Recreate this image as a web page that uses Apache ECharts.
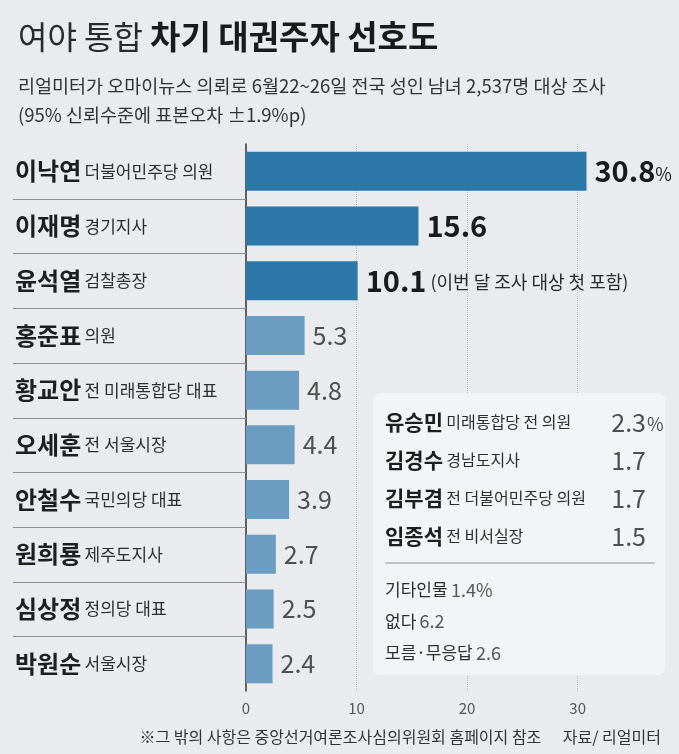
<!DOCTYPE html>
<html>
<head>
<meta charset="utf-8">
<script src="https://cdn.jsdelivr.net/npm/echarts@6/dist/echarts.min.js"></script>
<style>
  html, body { margin: 0; padding: 0; background: #e9ebef; }
  #chart { width: 679px; height: 754px; }
</style>
</head>
<body>
<div id="chart"></div>
<script>
// 주요 후보
const names = ['이낙연', '이재명', '윤석열', '홍준표', '황교안', '오세훈', '안철수', '원희룡', '심상정', '박원순'];
const titles = ['더불어민주당 의원', '경기지사', '검찰총장', '의원', '전 미래통합당 대표', '전 서울시장', '국민의당 대표', '제주도지사', '정의당 대표', '서울시장'];
const values = [30.8, 15.6, 10.1, 5.3, 4.8, 4.4, 3.9, 2.7, 2.5, 2.4];
const noteText = '(이번 달 조사 대상 첫 포함)';

// 박스 안 후보
const insetNames = ['유승민', '김경수', '김부겸', '임종석'];
const insetTitles = ['미래통합당 전 의원', '경남도지사', '전 더불어민주당 의원', '전 비서실장'];
const insetValues = [2.3, 1.7, 1.7, 1.5];
const otherLabels = ['기타인물', '없다', '모름·무응답'];
const otherValues = [1.4, 6.2, 2.6];

const xMax = 36;
const xInterval = 10;

const FONT = '"Noto Sans CJK KR", "Noto Sans", sans-serif';
const DARK = '#2a77a8';
const LIGHT = '#6b9dc2';

const chart = echarts.init(document.getElementById('chart'));

// 박스 (우측 하단)
const boxX = 373, boxY = 393, rowGap = 38;
const insetGraphics = [
  {
    type: 'rect', z: 10,
    shape: { x: boxX, y: boxY, width: 292, height: 282, r: 7 },
    style: { fill: '#f3f4f6' },
  },
  {
    type: 'line', z: 11,
    shape: { x1: 385, y1: 563, x2: 655, y2: 563 },
    style: { stroke: '#8d8f93', lineWidth: 1 },
  },
];
insetNames.forEach((n, i) => {
  const y = 422 + i * rowGap;
  insetGraphics.push({
    type: 'text', z: 11, x: 385, y: y,
    style: {
      text: `{n|${n}} {t|${insetTitles[i]}}`,
      verticalAlign: 'middle',
      rich: {
        n: { fontFamily: FONT, fontSize: 21, fontWeight: 'bold', fill: '#1e1e1e' },
        t: { fontFamily: FONT, fontSize: 16, fill: '#2e2e2e' },
      },
    },
  });
  insetGraphics.push({
    type: 'text', z: 11, x: 646, y: y,
    style: {
      text: insetValues[i].toFixed(1), align: 'right', verticalAlign: 'middle',
      fontFamily: FONT, fontSize: 25, fill: '#4f4f4f',
    },
  });
  if (i === 0) {
    insetGraphics.push({
      type: 'text', z: 11, x: 647, y: y + 2,
      style: { text: '%', align: 'left', verticalAlign: 'middle', fontFamily: FONT, fontSize: 18, fill: '#4f4f4f' },
    });
  }
});
otherLabels.forEach((l, i) => {
  insetGraphics.push({
    type: 'text', z: 11, x: 385, y: 590 + i * 31.5,
    style: {
      text: `{l|${l}} {v|${otherValues[i].toFixed(1)}${i === 0 ? '%' : ''}}`,
      verticalAlign: 'middle',
      rich: {
        l: { fontFamily: FONT, fontSize: 17, fill: '#2e2e2e' },
        v: { fontFamily: FONT, fontSize: 18, fill: '#555' },
      },
    },
  });
});

chart.setOption({
  backgroundColor: '#e9ebef',
  animation: false,
  title: [
    {
      left: 13, top: 15,
      text: '{r|여야 통합 }{b|차기 대권주자 선호도}',
      textStyle: {
        rich: {
          r: { fontFamily: FONT, fontSize: 32, fontWeight: 'normal', color: '#2a2a2a' },
          b: { fontFamily: FONT, fontSize: 33, fontWeight: 'bold', color: '#1a1a1a' },
        },
      },
    },
    {
      left: 13, top: 72,
      text: '리얼미터가 오마이뉴스 의뢰로 6월22~26일 전국 성인 남녀 2,537명 대상 조사',
      textStyle: { fontFamily: FONT, fontSize: 18.5, fontWeight: 'normal', color: '#333' },
    },
    {
      left: 13, top: 101,
      text: '(95% 신뢰수준에 표본오차 ±1.9%p)',
      textStyle: { fontFamily: FONT, fontSize: 18.5, fontWeight: 'normal', color: '#333' },
    },
    {
      right: 13, top: 724,
      text: '※그 밖의 사항은 중앙선거여론조사심의위원회 홈페이지 참조      자료/ 리얼미터',
      textStyle: { fontFamily: FONT, fontSize: 16, fontWeight: 'normal', color: '#333' },
    },
  ],
  grid: { left: 246, right: 35, top: 144, bottom: 63 },
  xAxis: {
    type: 'value',
    min: 0,
    max: xMax,
    interval: xInterval,
    axisLine: { show: false },
    axisTick: { show: false },
    axisLabel: {
      fontFamily: FONT, fontSize: 15, color: '#555', margin: 10,
      formatter: (v) => (v % xInterval === 0 ? String(v) : ''),
    },
    splitLine: {
      showMinLine: false,
      showMaxLine: false,
      lineStyle: { type: 'dotted', color: '#b9bdc3', width: 1 },
    },
  },
  yAxis: {
    type: 'category',
    inverse: true,
    data: names,
    axisLine: { show: true, lineStyle: { color: '#333', width: 1.5 } },
    axisTick: { show: false },
    axisLabel: {
      align: 'left',
      margin: 231,
      formatter: (val, idx) => `{n|${val}} {t|${titles[idx]}}`,
      rich: {
        n: { fontFamily: FONT, fontSize: 24, fontWeight: 'bold', color: '#1e1e1e' },
        t: { fontFamily: FONT, fontSize: 17, color: '#2e2e2e' },
      },
    },
  },
  series: [
    {
      type: 'bar',
      data: values,
      barWidth: 39,
      itemStyle: {
        color: (p) => (p.dataIndex < 3 ? DARK : LIGHT),
      },
      label: {
        show: true,
        position: 'right',
        distance: 8,
        formatter: (p) => {
          const v = p.value.toFixed(1);
          if (p.dataIndex === 0) return `{big|${v}}{pct|%}`;
          if (p.dataIndex === 2) return `{big|${v}}{note| ${noteText}}`;
          if (p.dataIndex < 3) return `{big|${v}}`;
          return `{small|${v}}`;
        },
        rich: {
          big: { fontFamily: FONT, fontSize: 29, fontWeight: 'bold', color: '#1a1a1a' },
          pct: { fontFamily: FONT, fontSize: 18, color: '#1a1a1a', padding: [6, 0, 0, 0] },
          note: { fontFamily: FONT, fontSize: 18, color: '#2a2a2a', padding: [2, 0, 0, 0] },
          small: { fontFamily: FONT, fontSize: 25, color: '#4f4f4f' },
        },
      },
      z: 3,
    },
    {
      // 왼쪽 이름 구분선
      type: 'custom',
      data: names.slice(1).map((_, i) => [0, i + 1]),
      encode: { x: 0, y: 1 },
      silent: true,
      renderItem: (params, api) => {
        const p = api.coord([0, api.value(1)]);
        const h = api.size([0, 1])[1];
        const y = Math.round(p[1] - h / 2) + 0.5;
        return {
          type: 'line',
          shape: { x1: 13, y1: y, x2: p[0], y2: y },
          style: { stroke: '#8d8f93', lineWidth: 1 },
        };
      },
    },
  ],
  graphic: insetGraphics,
});
</script>
</body>
</html>
